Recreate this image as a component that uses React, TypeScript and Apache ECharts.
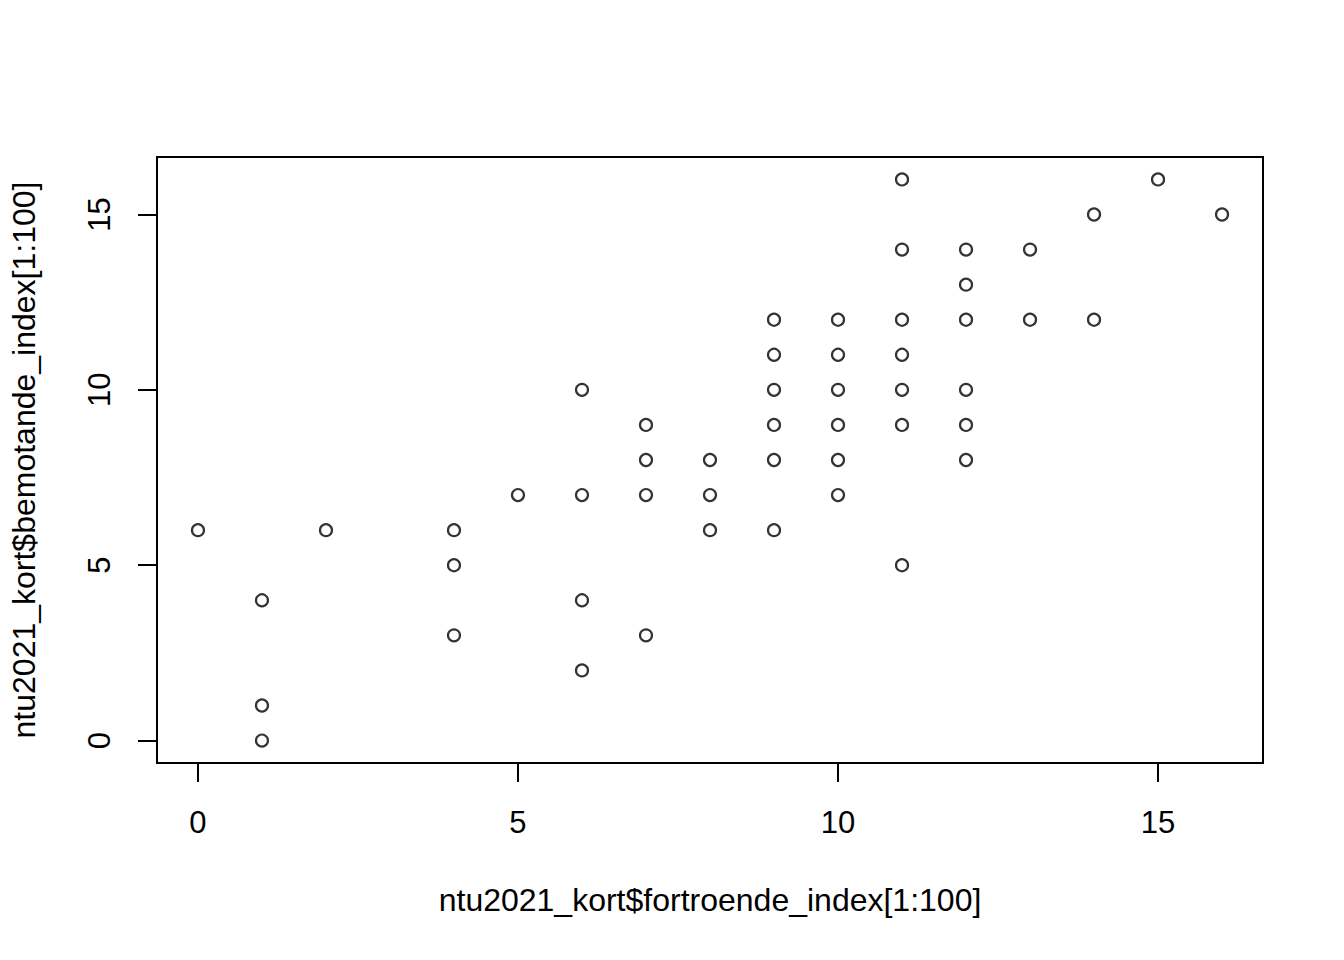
import React, { useEffect, useRef } from "react";
import * as echarts from "echarts";

const fortroende: number[] = [0, 1, 1, 1, 2, 4, 4, 4, 5, 6, 6, 6, 6, 7, 7, 7, 7, 8, 8, 8, 9, 9, 9, 9, 9, 9, 10, 10, 10, 10, 10, 10, 11, 11, 11, 11, 11, 11, 11, 12, 12, 12, 12, 12, 12, 13, 13, 14, 14, 15, 16];
const bemotande: number[] = [6, 4, 1, 0, 6, 6, 5, 3, 7, 10, 7, 4, 2, 9, 8, 7, 3, 8, 7, 6, 12, 11, 10, 9, 8, 6, 12, 11, 10, 9, 8, 7, 16, 14, 12, 11, 10, 9, 5, 14, 13, 12, 10, 9, 8, 14, 12, 15, 12, 16, 15];
const xTicks: number[] = [0, 5, 10, 15];
const yTicks: number[] = [0, 5, 10, 15];
const xTitle = "ntu2021_kort$fortroende_index[1:100]";
const yTitle = "ntu2021_kort$bemotande_index[1:100]";

const FONT = "Liberation Sans, Arial, sans-serif";

export default function App() {
  const ref = useRef<HTMLDivElement>(null);
  useEffect(() => {
    document.body.style.margin = "0";
    if (!ref.current) return;
    const chart = echarts.init(ref.current, null, { renderer: "svg" });
    const pad = (16 - 0) * 0.04;
    const axisCommon = {
      type: "value" as const,
      min: 0 - pad,
      max: 16 + pad,
      splitLine: { show: false },
      axisLine: { show: false, onZero: false },
      nameLocation: "middle" as const,
      nameTextStyle: { color: "#000", fontSize: 32, fontFamily: FONT },
    };
    chart.setOption({
      animation: false,
      backgroundColor: "#fff",
      grid: {
        left: 157,
        top: 157,
        width: 1106,
        height: 606,
        show: true,
        borderColor: "#000",
        borderWidth: 2,
        backgroundColor: "transparent",
      },
      xAxis: {
        ...axisCommon,
        name: xTitle,
        nameGap: 121,
        axisTick: {
          show: true,
          inside: false,
          length: 19,
          customValues: xTicks,
          lineStyle: { color: "#000", width: 2 },
        },
        axisLabel: {
          customValues: xTicks,
          color: "#000",
          fontSize: 31,
          fontFamily: FONT,
          margin: 44,
          lineHeight: 31,
        },
      },
      yAxis: {
        ...axisCommon,
        name: yTitle,
        nameGap: 117,
        nameRotate: 90,
        axisTick: {
          show: true,
          inside: false,
          length: 19,
          customValues: yTicks,
          lineStyle: { color: "#000", width: 2 },
        },
        axisLabel: {
          customValues: yTicks,
          color: "#000",
          fontSize: 31,
          fontFamily: FONT,
          margin: 42,
          rotate: 90,
          lineHeight: 31,
        },
      },
      series: [
        {
          type: "scatter",
          data: fortroende.map((x, i) => [x, bemotande[i]]),
          symbol: "circle",
          symbolSize: 12,
          itemStyle: { color: "transparent", borderColor: "#000", borderWidth: 2.2 },
          emphasis: { disabled: true },
        },
      ],
    });
    return () => chart.dispose();
  }, []);
  return <div ref={ref} style={{ width: 1344, height: 960 }} />;
}
